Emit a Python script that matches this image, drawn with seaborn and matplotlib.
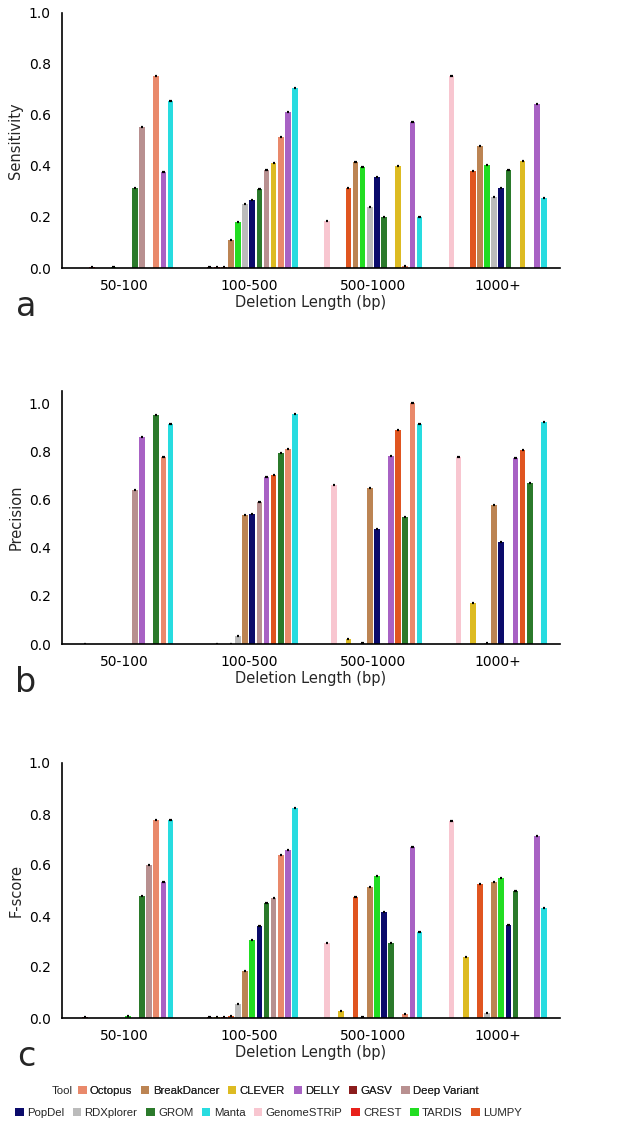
import numpy as np
import pandas as pd
import seaborn as sns
import matplotlib.pyplot as plt
from matplotlib.patches import Patch

# deletion length groups and tools (legend order)
groups = ["50-100", "100-500", "500-1000", "1000+"]
tools = ["Octopus", "BreakDancer", "CLEVER", "DELLY", "GASV", "Deep Variant",
         "PopDel", "RDXplorer", "GROM", "Manta", "GenomeSTRiP", "CREST", "TARDIS", "LUMPY"]
colors = ["#E9896B", "#BC8453", "#DDBB22", "#A862C4", "#8B1C1C", "#B89090",
          "#0B0B6B", "#BBBBBB", "#2B7A2B", "#28DCE0", "#F8C6D0", "#E8201A", "#22DD22", "#E05520"]

# values per tool (same order as tools), one per group, None = not shown
sensitivity = [
    [0.754, 0.515, 0.009, None],   # Octopus
    [None, 0.110, 0.417, 0.478],   # BreakDancer
    [None, 0.412, 0.401, 0.421],   # CLEVER
    [0.376, 0.613, 0.570, 0.643],  # DELLY
    [None, 0.003, None, None],     # GASV
    [0.554, 0.382, None, None],    # Deep Variant
    [None, 0.265, 0.358, 0.315],   # PopDel
    [None, 0.251, 0.240, 0.280],   # RDXplorer
    [0.315, 0.310, 0.199, 0.384],  # GROM
    [0.655, 0.705, 0.199, 0.276],  # Manta
    [None, None, 0.185, 0.753],    # GenomeSTRiP
    [0.003, 0.003, None, None],    # CREST
    [0.003, 0.180, 0.397, 0.404],  # TARDIS
    [None, 0.003, 0.313, 0.380],   # LUMPY
]
precision = [
    [0.778, 0.808, 1.000, None],   # Octopus
    [None, 0.536, 0.647, 0.578],   # BreakDancer
    [None, None, 0.020, 0.170],    # CLEVER
    [0.860, 0.693, 0.781, 0.774],  # DELLY
    [None, 0.002, None, None],     # GASV
    [0.639, 0.589, None, None],    # Deep Variant
    [None, 0.540, 0.479, 0.422],   # PopDel
    [None, 0.035, 0.003, 0.005],   # RDXplorer
    [0.950, 0.792, 0.528, 0.670],  # GROM
    [0.912, 0.953, 0.912, 0.920],  # Manta
    [0.002, None, 0.658, 0.776],   # GenomeSTRiP
    [None, 0.002, None, None],     # CREST
    [None, None, None, None],      # TARDIS
    [None, 0.701, 0.889, 0.806],   # LUMPY
]
fscore = [
    [0.775, 0.640, 0.016, None],   # Octopus
    [None, 0.183, 0.515, 0.532],   # BreakDancer
    [None, 0.003, 0.026, 0.240],   # CLEVER
    [0.532, 0.660, 0.672, 0.715],  # DELLY
    [0.003, 0.003, None, None],    # GASV
    [0.601, 0.471, None, None],    # Deep Variant
    [None, 0.361, 0.416, 0.366],   # PopDel
    [None, 0.055, 0.003, 0.020],   # RDXplorer
    [0.480, 0.451, 0.295, 0.498],  # GROM
    [0.775, 0.824, 0.336, 0.433],  # Manta
    [None, None, 0.293, 0.772],    # GenomeSTRiP
    [None, 0.003, None, None],     # CREST
    [0.008, 0.304, 0.557, 0.548],  # TARDIS
    [None, 0.008, 0.474, 0.526],   # LUMPY
]

# bar order inside each group differs per panel
sens_order = ["GenomeSTRiP", "GASV", "CREST", "LUMPY", "BreakDancer", "TARDIS", "RDXplorer",
              "PopDel", "GROM", "Deep Variant", "CLEVER", "Octopus", "DELLY", "Manta"]
prec_order = ["TARDIS", "GenomeSTRiP", "GASV", "CLEVER", "CREST", "RDXplorer", "BreakDancer",
              "PopDel", "Deep Variant", "DELLY", "LUMPY", "GROM", "Octopus", "Manta"]
f_order = ["GenomeSTRiP", "GASV", "CLEVER", "CREST", "LUMPY", "RDXplorer", "BreakDancer",
           "TARDIS", "PopDel", "GROM", "Deep Variant", "Octopus", "DELLY", "Manta"]

palette = dict(zip(tools, colors))


def to_long(values):
    rows = []
    for tool, vals in zip(tools, values):
        for g, v in zip(groups, vals):
            if v is not None:
                rows.append({"Tool": tool, "Deletion": g, "value": v})
    return pd.DataFrame(rows)


sns.set_style("white")
plt.rcParams["font.family"] = ["DejaVu Sans"]

fig = plt.figure(figsize=(6.32, 11.25), dpi=100)
W, H = 632, 1125
panels = [
    (sensitivity, sens_order, "Sensitivity", 12.7, 268, 1.0, "a", 306),
    (precision, prec_order, "Precision", 391, 644, 1.05, "b", 682),
    (fscore, f_order, "F-score", 763, 1018, 1.0, "c", 1056),
]

for values, order, ylab, top, bot, ymax, letter, ly in panels:
    ax = fig.add_axes([62 / W, 1 - bot / H, (560 - 62) / W, (bot - top) / H])
    df = to_long(values)
    sns.barplot(data=df, x="Deletion", y="value", hue="Tool", order=groups,
                hue_order=order, palette=palette, gap=0.2, width=0.8,
                saturation=1, errorbar=None, linewidth=0,
                legend=False, ax=ax)
    # small black caps on top of every bar
    for p in ax.patches:
        x0, w, h = p.get_x(), p.get_width(), p.get_height()
        ax.plot([x0 + w * 0.3, x0 + w * 0.7], [h, h], color="black",
                lw=1.6, solid_capstyle="butt", zorder=5)
    ax.set_xlim(-0.5, 3.5)
    ax.set_ylim(0, ymax)
    ax.set_yticks([0, 0.2, 0.4, 0.6, 0.8, 1.0])
    ax.set_yticklabels(["0.0", "0.2", "0.4", "0.6", "0.8", "1.0"])
    ax.tick_params(axis="both", length=0, labelsize=10, pad=8, colors="black")
    ax.set_ylabel(ylab, fontsize=10.5, labelpad=4)
    ax.set_xlabel("Deletion Length (bp)", fontsize=10.5, labelpad=1)
    for s in ["top", "right"]:
        ax.spines[s].set_visible(False)
    for s in ["left", "bottom"]:
        ax.spines[s].set_color("black")
        ax.spines[s].set_linewidth(1.2)
    fig.text(26 / W, 1 - ly / H, letter, fontsize=24, ha="center", va="center")

# legend: two rows, "Tool" title inline
handles = [Patch(facecolor=c, edgecolor="none", label=t) for t, c in zip(tools, colors)]
leg_kw = dict(frameon=False, handlelength=0.75, handleheight=0.75, handletextpad=0.3,
              columnspacing=0.75, borderpad=0, borderaxespad=0,
              prop={"family": "Liberation Sans", "size": 8.2})
fig.text(52 / W, 1 - 1091 / H, "Tool", family="Liberation Sans", fontsize=8.2,
         ha="left", va="center")
leg1 = fig.legend(handles=handles[:6], ncol=6, loc="center left",
                  bbox_to_anchor=(78 / W, 1 - 1091 / H), **leg_kw)
fig.add_artist(leg1)
fig.legend(handles=handles[6:], ncol=8, loc="center left",
           bbox_to_anchor=(15 / W, 1 - 1113 / H), **leg_kw)

fig.savefig("out.png", dpi=100)
